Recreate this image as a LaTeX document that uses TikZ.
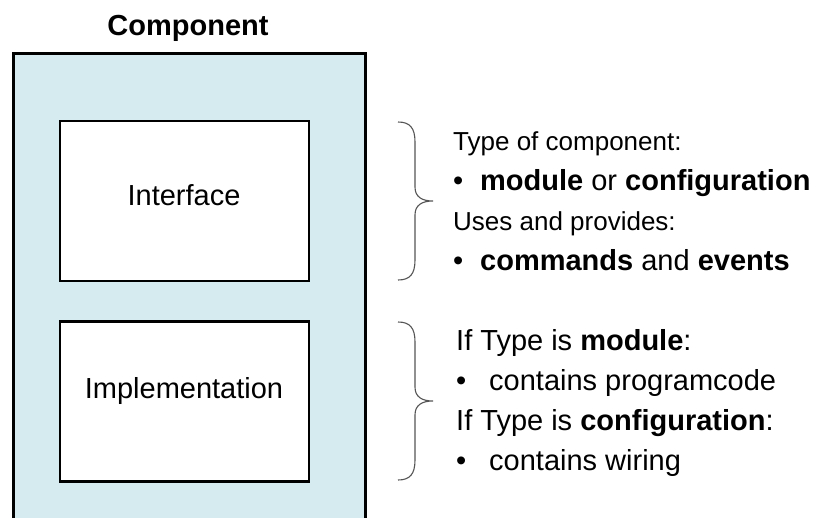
\documentclass[tikz,border=0pt]{standalone}
\usepackage{fontspec}
\setmainfont{Liberation Sans}
\definecolor{compfill}{RGB}{214,235,239}
\definecolor{bracegray}{RGB}{85,85,85}
\begin{document}
\begin{tikzpicture}[x=1pt,y=-1pt,
  big/.style={font=\fontsize{29}{35}\selectfont},
  small/.style={font=\fontsize{26}{31}\selectfont},
  lbl/.style={big, inner sep=0, anchor=base},
  txt/.style={anchor=base west, inner sep=0},
  bracepath/.style={draw=bracegray, line width=1.1pt},
  innerbox/.style={draw=black, line width=2.4pt, fill=white, inner sep=0,
                   minimum width=249pt, minimum height=160pt},
  outerbox/.style={draw=black, line width=2.6pt, fill=compfill, inner sep=0}]
\useasboundingbox (0,0) rectangle (817,517);
\clip (0,0) rectangle (817,517);

% outer component box (runs past the bottom edge)
\node[outerbox, anchor=north west, minimum width=352pt, minimum height=500pt] (comp) at (12,52) {};
\node[lbl, font=\fontsize{29}{35}\selectfont\bfseries] (title) at (188,35) {Component};

% inner boxes
\node[innerbox] (iface) at (184.5,201) {};
\node[lbl] (ifacelbl) at (184,205) {Interface};
\node[innerbox] (impl) at (184.5,401.5) {};
\node[lbl] (impllbl) at (184,398) {Implementation};

% braces
\draw[bracepath] (398,122) .. controls (410,122) and (415,128) .. (415,142)
  -- (415,187) .. controls (415,197) and (422,201) .. (433,201)
  .. controls (422,201) and (415,205) .. (415,215)
  -- (415,260) .. controls (415,274) and (410,280) .. (398,280);
\draw[bracepath] (398,322) .. controls (410,322) and (415,328) .. (415,342)
  -- (415,387) .. controls (415,397) and (422,401) .. (433,401)
  .. controls (422,401) and (415,405) .. (415,415)
  -- (415,460) .. controls (415,474) and (410,480) .. (398,480);

% upper text
\node[txt, small] (t1) at (453,150) {Type of component:};
\node[txt, big] (b1) at (453,190) {\textbullet};
\node[txt, big] (t2) at (480,190) {\textbf{module} or \textbf{configuration}};
\node[txt, small] (t3) at (453,230) {Uses and provides:};
\node[txt, big] (b2) at (453,270) {\textbullet};
\node[txt, big] (t4) at (480,270) {\textbf{commands} and \textbf{events}};

% lower text
\node[txt, big] (u1) at (456,350) {If Type is \textbf{module}:};
\node[txt, big] (c1) at (456,390) {\textbullet};
\node[txt, big] (u2) at (489,390) {contains programcode};
\node[txt, big] (u3) at (456,430) {If Type is \textbf{configuration}:};
\node[txt, big] (c2) at (456,470) {\textbullet};
\node[txt, big] (u4) at (489,470) {contains wiring};
\end{tikzpicture}
\end{document}
